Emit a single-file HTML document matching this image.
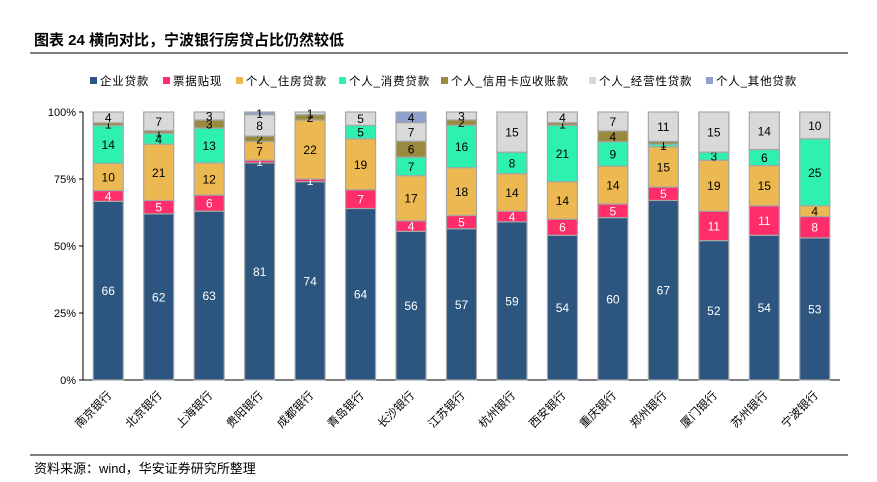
<!DOCTYPE html>
<html><head><meta charset="utf-8"><style>
body{margin:0;background:#fff;width:877px;height:477px;overflow:hidden;font-family:"Liberation Sans","Noto Sans CJK SC",sans-serif}
</style></head><body>
<svg width="877" height="477" xmlns="http://www.w3.org/2000/svg" style="font-family:'Liberation Sans','Noto Sans CJK SC',sans-serif">
<text x="34" y="45" font-size="15" font-weight="bold" fill="#000">图表 24  横向对比，宁波银行房贷占比仍然较低</text>
<line x1="30" y1="53" x2="848" y2="53" stroke="#000" stroke-width="1"/>
<line x1="30" y1="455" x2="848" y2="455" stroke="#000" stroke-width="1"/>
<text x="34" y="473" font-size="13" fill="#000">资料来源：wind，华安证券研究所整理</text>
<g id="legend"></g>
<g id="axes"></g>
<g id="bars"></g>
</svg>
<script>
const banks=["南京银行","北京银行","上海银行","贵阳银行","成都银行","青岛银行","长沙银行","江苏银行","杭州银行","西安银行","重庆银行","郑州银行","厦门银行","苏州银行","宁波银行"];
const seriesNames=["企业贷款","票据贴现","个人_住房贷款","个人_消费贷款","个人_信用卡应收账款","个人_经营性贷款","个人_其他贷款"];
const corp=[66,62,63,81,74,64,56,57,59,54,60,67,52,54,53];
const disc=[4,5,6,1,1,7,4,5,4,6,5,5,11,11,8];
const house=[10,21,12,7,22,19,17,18,14,14,14,15,19,15,4];
const cons=[14,4,13,0,0,5,7,16,8,21,9,1,3,6,25];
const card=[1,1,3,2,2,0,6,2,0,1,4,1,0,0,0];
const biz=[4,7,3,8,1,5,7,3,15,4,7,11,15,14,10];
const other=[0,0,0,1,0,0,4,0,0,0,0,0,0,0,0];
const yTicks=["0%","25%","50%","75%","100%"];
const series=[corp,disc,house,cons,card,biz,other];
const colors=["#2c5580","#ff2d6a","#ecb851","#2ef0b0","#9a8a3e","#d9d9d9","#8e9fd0"];
const txtCol=["#fff","#fff","#000","#000","#000","#000","#000"];
const NS="http://www.w3.org/2000/svg";
const x0=83,x1=840,yB=380,yT=112;
const step=(x1-x0)/banks.length, bw=30;
const xC=i=>x0+step*(i+0.5);
const yS=p=>yB-(yB-yT)*p;
function mk(t,a,p){const e=document.createElementNS(NS,t);for(const k in a)e.setAttribute(k,a[k]);p.appendChild(e);return e;}
const ax=document.getElementById('axes');
const l1=mk('line',{x1:x0,y1:yT,x2:x0,y2:yB,stroke:'#000'},ax);


const l2=mk('line',{x1:x0,y1:yB,x2:x1,y2:yB,stroke:'#000'},ax);


yTicks.forEach((t,i)=>{const y=yS(i/4);
 mk('line',{x1:x0-4,y1:y,x2:x0,y2:y,stroke:'#000'},ax);
 const tx=mk('text',{x:x0-7,y:y+4,'font-size':11,'text-anchor':'end'},ax);tx.textContent=t;
 
 });
const bg=document.getElementById('bars');
banks.forEach((b,i)=>{
 let tot=0;series.forEach(s=>tot+=s[i]);
 let cum=0;const cx=xC(i);
 series.forEach((s,k)=>{const v=s[i];if(v<=0)return;
  const ya=yS(cum/tot),yb=yS((cum+v)/tot);cum+=v;
  const r=mk('rect',{x:cx-bw/2,y:yb,width:bw,height:ya-yb,fill:colors[k],stroke:'#a6a6a6','stroke-width':1.2},bg);
  
  
  const t=mk('text',{x:cx,y:(ya+yb)/2+4.5,'font-size':12,'text-anchor':'middle',fill:txtCol[k]},bg);t.textContent=v;
  
  
 });
 const lb=mk('text',{x:0,y:0,'font-size':11.5,'text-anchor':'end',transform:`translate(${cx+4},${yB+16}) rotate(-45)`},ax);lb.textContent=b;
 
 
});
const lg=document.getElementById('legend');
const lx=[90,163,236,339,441,589,706];
seriesNames.forEach((n,k)=>{
 const g=mk('g',{},lg);
 
 
 mk('rect',{x:lx[k],y:77,width:7,height:7,fill:colors[k]},g);
 const t=mk('text',{x:lx[k]+10,y:85,'font-size':11.5,'letter-spacing':'0.8'},g);t.textContent=n;
});
</script>
</body></html>
